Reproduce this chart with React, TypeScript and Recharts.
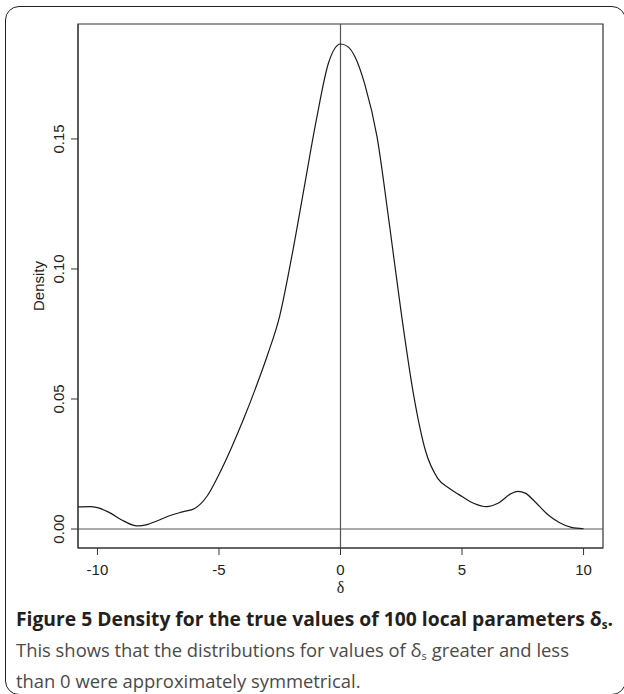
import { LineChart, Line, XAxis, YAxis, ReferenceLine, ReferenceArea } from 'recharts';

// density estimate
const deltaValues = [
  -10.8, -10.3, -10, -9.5, -9, -8.5, -8.3, -8, -7.5, -7, -6.5, -6, -5.5, -5, -4.5, -4, -3.5, -3,
  -2.5, -2, -1.5, -1, -0.5, 0, 0.3, 0.6, 1, 1.5, 2, 2.5, 3, 3.5, 4, 4.5, 5, 5.5, 6, 6.5, 7, 7.3,
  7.6, 8, 8.5, 9, 9.5, 10,
];
const densityValues = [
  0.0085, 0.0086, 0.0082, 0.0063, 0.0035, 0.0014, 0.0012, 0.0016, 0.0033, 0.0052, 0.0066, 0.0079,
  0.0125, 0.021, 0.031, 0.042, 0.054, 0.067, 0.082, 0.105, 0.131, 0.157, 0.179, 0.1865, 0.1855,
  0.1815, 0.171, 0.151, 0.118, 0.083, 0.052, 0.03, 0.0195, 0.0155, 0.0125, 0.0098, 0.0086, 0.01,
  0.0135, 0.0145, 0.0138, 0.0105, 0.0058, 0.0025, 0.0006, 0.0001,
];
const xTicks = [-10, -5, 0, 5, 10];
const yTicks = [0, 0.05, 0.1, 0.15];
const xDomain = [-10.8, 10.8];
const yDomain = [-0.0073, 0.1942];

const data = deltaValues.map((x, i) => ({ x, y: densityValues[i] }));

const axisFont = "'Liberation Sans', Arial, sans-serif";

function YTick(props: any) {
  const { x, y, payload } = props;
  return (
    <text
      x={x}
      y={y}
      transform={`rotate(-90, ${x}, ${y})`}
      textAnchor="middle"
      fontSize={15}
      fontFamily={axisFont}
      fill="#222"
    >
      {Number(payload.value).toFixed(2)}
    </text>
  );
}

function DensityLabel(props: any) {
  const vb = props.viewBox || { x: 18, y: 24, height: 524 };
  const x = vb.x + 26;
  const y = vb.y + vb.height / 2;
  return (
    <text
      x={x}
      y={y}
      transform={`rotate(-90, ${x}, ${y})`}
      textAnchor="middle"
      fontSize={15}
      fontFamily={axisFont}
      fill="#222"
    >
      Density
    </text>
  );
}

const subStyle = { fontSize: '0.6em', verticalAlign: '-0.25em' };

export default function App() {
  return (
    <div
      style={{
        position: 'absolute',
        left: 0,
        top: 0,
        width: 624,
        height: 694,
        overflow: 'hidden',
        background: '#fff',
      }}
    >
      {/* rounded figure frame */}
      <div
        style={{
          position: 'absolute',
          left: 5,
          top: 6,
          width: 621,
          height: 689,
          boxSizing: 'border-box',
          border: '1.5px solid #222',
          borderRadius: 14,
        }}
      />
      <div style={{ position: 'absolute', left: 0, top: 0 }}>
        <LineChart width={624} height={600} data={data} margin={{ top: 24, right: 21, bottom: 0, left: 18 }}>
          <XAxis
            dataKey="x"
            type="number"
            domain={xDomain}
            ticks={xTicks}
            allowDataOverflow
            height={52}
            tickSize={7}
            tickMargin={9}
            stroke="#333"
            tick={{ fill: '#222', fontSize: 15, fontFamily: axisFont }}
            label={{
              value: 'δ',
              position: 'insideTop',
              offset: 34,
              fill: '#222',
              fontSize: 16,
              fontFamily: "'Liberation Serif', serif",
            }}
          />
          <YAxis
            type="number"
            domain={yDomain}
            ticks={yTicks}
            allowDataOverflow
            width={60}
            tickSize={7}
            tickMargin={7}
            stroke="#333"
            tick={<YTick />}
            label={(p: any) => <DensityLabel {...p} />}
          />
          {/* plot box */}
          <ReferenceArea
            x1={xDomain[0]}
            x2={xDomain[1]}
            y1={yDomain[0]}
            y2={yDomain[1]}
            fill="none"
            fillOpacity={0}
            stroke="#333"
            strokeWidth={1.2}
          />
          <ReferenceLine x={0} stroke="#555" strokeWidth={1.2} />
          <ReferenceLine y={0} stroke="#555" strokeWidth={1.2} />
          <Line
            dataKey="y"
            type="monotone"
            stroke="#1a1a1a"
            strokeWidth={1.2}
            dot={false}
            isAnimationActive={false}
          />
        </LineChart>
      </div>
      {/* caption */}
      <div
        style={{
          position: 'absolute',
          left: 16,
          top: 606,
          fontFamily: "'Open Sans', sans-serif",
          lineHeight: '25px',
          whiteSpace: 'nowrap',
          color: '#4a4a4a',
        }}
      >
        <div style={{ fontWeight: 700, color: '#231f20', fontSize: 19.3 }}>
          Figure 5 Density for the true values of 100 local parameters δ<sub style={subStyle}>s</sub>.
        </div>
        <div style={{ fontSize: 18.4 }}>
          This shows that the distributions for values of δ<sub style={subStyle}>s</sub> greater and less
        </div>
        <div style={{ fontSize: 18.4 }}>than 0 were approximately symmetrical.</div>
      </div>
    </div>
  );
}
